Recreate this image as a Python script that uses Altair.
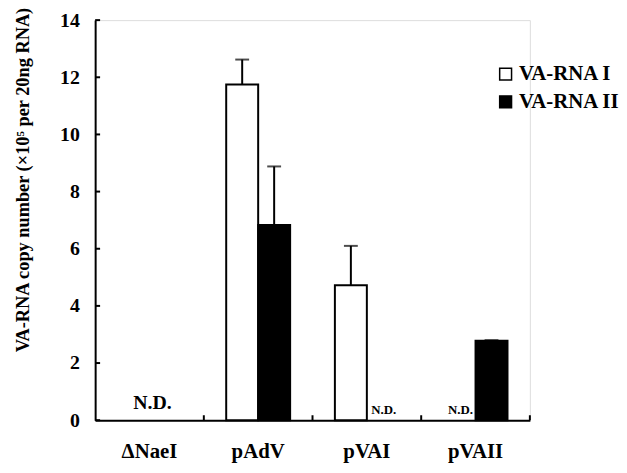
import altair as alt
import pandas as pd

categories = ["ΔNaeI", "pAdV", "pVAI", "pVAII"]
series = ["VA-RNA I", "VA-RNA II"]
rna1_values = [None, 11.75, 4.72, None]
rna1_upper = [None, 12.62, 6.10, None]
rna2_values = [None, 6.83, None, 2.78]
rna2_upper = [None, 8.88, None, 2.80]
y_ticks = [0, 2, 4, 6, 8, 10, 12, 14]
nd_big = [("ΔNaeI", "N.D.")]
nd_small = [("pVAI", "VA-RNA II", "N.D."), ("pVAII", "VA-RNA I", "N.D.")]
y_title = "VA-RNA copy number (×10⁵ per  20ng RNA)"

FONT = "Liberation Serif"
W, H = 439, 404

rows = []
for i, c in enumerate(categories):
    rows.append({"cat": c, "series": series[0], "value": rna1_values[i], "upper": rna1_upper[i]})
    rows.append({"cat": c, "series": series[1], "value": rna2_values[i], "upper": rna2_upper[i]})
df = pd.DataFrame(rows)

x_enc = alt.X("cat:N", sort=categories, title=None,
              scale=alt.Scale(paddingInner=0, paddingOuter=0),
              axis=alt.Axis(labelFont=FONT, labelFontWeight="bold", labelFontSize=21,
                            labelColor="black", labelAngle=0, labelPadding=38,
                            labelBaseline="alphabetic",
                            ticks=False, tickSize=0, domainColor="black", domainWidth=2))
xo = alt.XOffset("series:N", sort=series,
                 scale=alt.Scale(paddingInner=0, paddingOuter=0.7))
y_scale = alt.Scale(domain=[0, 14], nice=False)

base = alt.Chart(df)

bars = base.mark_bar(stroke="black", strokeWidth=2).encode(
    x=x_enc,
    xOffset=xo,
    y=alt.Y("value:Q", scale=y_scale, title=y_title,
            axis=alt.Axis(values=y_ticks, labelFont=FONT, labelFontWeight="bold",
                          labelFontSize=20, labelColor="black", labelPadding=16,
                          ticks=False, tickSize=0, grid=False,
                          domainColor="black", domainWidth=2,
                          titleFont=FONT, titleFontWeight="bold", titleFontSize=18.5,
                          titleColor="black", titleX=-73, titleY=161,
                          titleAngle=270, titleAlign="center", titleBaseline="middle")),
    fill=alt.Fill("series:N", sort=series,
                  scale=alt.Scale(domain=series, range=["white", "black"]),
                  legend=alt.Legend(title=None, orient="none", legendX=404, legendY=44,
                                    symbolType="square", symbolSize=144,
                                    symbolStrokeColor="black", symbolStrokeWidth=1.5,
                                    labelFont=FONT, labelFontWeight="bold",
                                    labelFontSize=21, labelColor="black",
                                    labelOffset=3, rowPadding=6, padding=0)),
).transform_filter("isValid(datum.value)")

err_rule = base.mark_rule(color="black", strokeWidth=2).encode(
    x=alt.X("cat:N", sort=categories),
    xOffset=xo,
    y=alt.Y("value:Q", scale=y_scale),
    y2="upper:Q",
).transform_filter("isValid(datum.upper)")

err_cap = base.mark_tick(color="black", thickness=2, size=14).encode(
    x=alt.X("cat:N", sort=categories),
    xOffset=xo,
    y=alt.Y("upper:Q", scale=y_scale),
).transform_filter("isValid(datum.upper)")

nd_big_df = pd.DataFrame([{"cat": c, "label": l, "zero": 0} for c, l in nd_big])
nd_big_text = alt.Chart(nd_big_df).mark_text(
    font=FONT, fontWeight="bold", fontSize=20, color="black",
    baseline="alphabetic", dy=-11, dx=3
).encode(
    x=alt.X("cat:N", sort=categories),
    y=alt.Y("zero:Q", scale=y_scale),
    text="label:N",
)

nd_small_df = pd.DataFrame([{"cat": c, "series": s, "label": l, "zero": 0} for c, s, l in nd_small])
nd_small_text = alt.Chart(nd_small_df).mark_text(
    font=FONT, fontWeight="bold", fontSize=13, color="black",
    baseline="alphabetic", dy=-6, dx=1
).encode(
    x=alt.X("cat:N", sort=categories),
    xOffset=xo,
    y=alt.Y("zero:Q", scale=y_scale),
    text="label:N",
)

ytick_df = pd.DataFrame({"v": y_ticks})
y_tick_marks = alt.Chart(ytick_df).mark_rule(color="black", strokeWidth=2).encode(
    y=alt.Y("v:Q", scale=y_scale),
    x=alt.value(0),
    x2=alt.value(5),
)

xtick_df = pd.DataFrame({"cat": categories})
x_tick_marks = alt.Chart(xtick_df).mark_rule(color="black", strokeWidth=2).encode(
    x=alt.X("cat:N", sort=categories, bandPosition=1),
    y=alt.value(H),
    y2=alt.value(H - 5),
)

chart = alt.layer(
    bars, err_rule, err_cap, nd_big_text, nd_small_text, y_tick_marks, x_tick_marks
).resolve_scale(x="shared").properties(
    width=W, height=H,
    autosize=alt.AutoSizeParams(type="none"),
    padding={"left": 88, "top": 10, "right": 90, "bottom": 43},
).configure_view(stroke=None).configure(background="white")

chart.save("out.html", embed_options={"renderer": "svg", "actions": False})
